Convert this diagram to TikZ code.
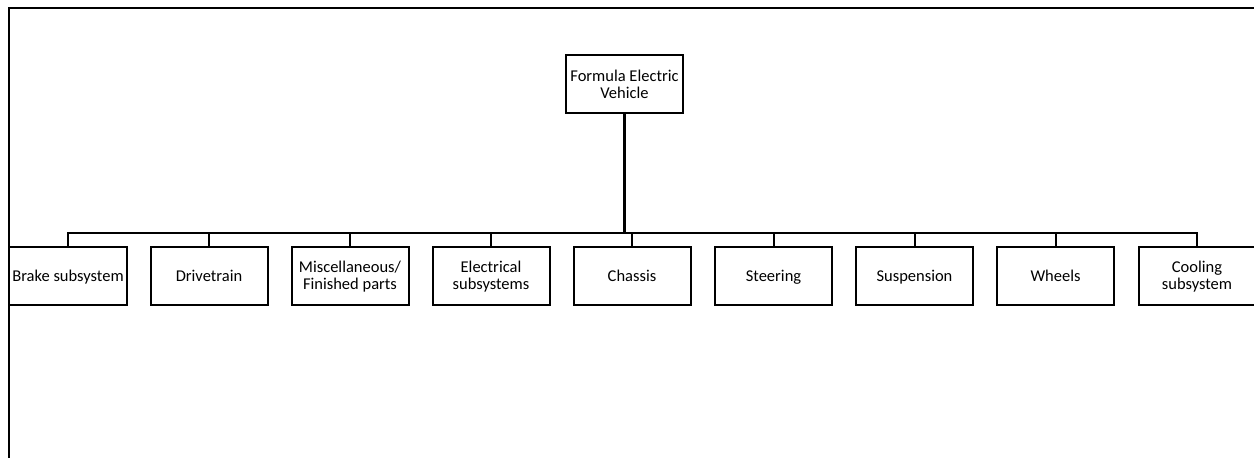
\documentclass[tikz,border=0pt]{standalone}
\usepackage{fontspec}
\setmainfont{Carlito}
\newcommand{\ls}{\rule[-1bp]{0pt}{14bp}}
\begin{document}
\begin{tikzpicture}[x=1bp,y=-1bp,
  box/.style={draw, line width=2bp, minimum width=117bp, minimum height=58bp, align=center, inner sep=0pt,
    font=\fontsize{16.5bp}{17bp}\selectfont},
  conn/.style={line width=2bp},
  trunk/.style={line width=3bp}]
\useasboundingbox (0,0) rectangle (1254,458);
% frame
\coordinate (fTR) at (1254,8);
\coordinate (fTL) at (9,8);
\coordinate (fBL) at (9,458);
\draw[line width=2bp] (fTR) -- (fTL) -- (fBL);
% root
\node[box] (root) at (624.5,84) {\ls Formula Electric\\\ls Vehicle};
% children
\node[box] (b1) at (68,276) {\ls Brake subsystem};
\node[box] (b2) at (209,276) {\ls Drivetrain};
\node[box] (b3) at (350,276) {\ls Miscellaneous/\\\ls Finished parts};
\node[box] (b4) at (491,276) {\ls Electrical\\\ls subsystems};
\node[box] (b5) at (632,276) {\ls Chassis};
\node[box] (b6) at (773.5,276) {\ls Steering};
\node[box] (b7) at (914.5,276) {\ls Suspension};
\node[box] (b8) at (1055.5,276) {\ls Wheels};
\node[box] (b9) at (1197,276) {\ls Cooling\\\ls subsystem};
% connectors
\coordinate (bus) at (624.5,234);
\draw[trunk] (root.south) -- (bus);
\draw[conn] (b1.north) -- ++(0,-13) -| (b9.north);
\foreach \i in {2,...,8} \draw[conn] (b\i.north) -- ++(0,-13);
\end{tikzpicture}
\end{document}
